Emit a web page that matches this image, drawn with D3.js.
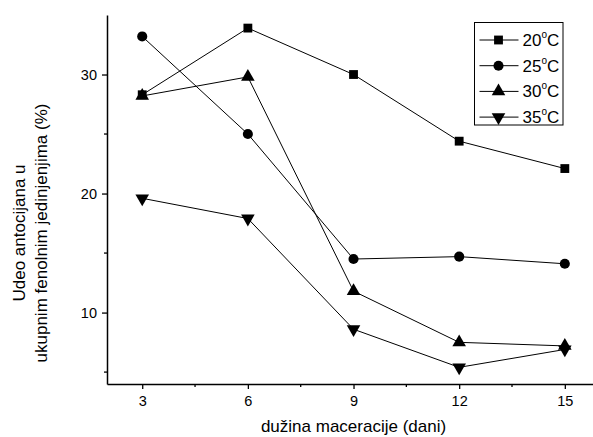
<!DOCTYPE html>
<html lang="en">
<head>
  <meta charset="utf-8">
  <title>Udeo antocijana</title>
  <script src="https://cdn.jsdelivr.net/npm/d3@7"></script>
  <style type="text/css">
    body { margin: 0; background: #fff; }
    svg { font-family: "Liberation Sans", Arial, sans-serif; }
    .tick text { font-size: 14.5px; fill: #000; }
    .axisTitle { font-size: 17px; fill: #000; }
    .legendText { font-size: 17px; fill: #000; }
  </style>
</head>
<body>
<script>
  // days of maceration
  var days = [3, 6, 9, 12, 15];
  var seriesNames = ["20", "25", "30", "35"];
  var s20 = [28.3, 33.9, 30.0, 24.4, 22.1];
  var s25 = [33.2, 25.0, 14.5, 14.7, 14.1];
  var s30 = [28.2, 29.8, 11.8, 7.5, 7.2];
  var s35 = [19.6, 17.9, 8.6, 5.4, 6.9];
  var xTicks = [3, 6, 9, 12, 15];
  var yTicks = [10, 20, 30];

  var series = [s20, s25, s30, s35];
  var symbols = [d3.symbolSquare, d3.symbolCircle, d3.symbolTriangle, d3.symbolTriangle];
  var symSize = [78, 80, 80, 80];
  var symRot = [0, 0, 0, 180];

  var width = 593, height = 437;
  var margin = {left: 107, top: 15, right: 0, bottom: 53};

  var svg = d3.select("body").append("svg")
    .attr("width", width)
    .attr("height", height);

  var x = d3.scaleLinear().domain([2, 15.8]).range([margin.left, width - margin.right]);
  var y = d3.scaleLinear().domain([4, 35]).range([height - margin.bottom, margin.top]);

  // minor ticks
  var xMinor = [4.5, 7.5, 10.5, 13.5];
  var yMinor = [5, 15, 25];

  var xAxis = svg.append("g")
    .attr("transform", "translate(0," + (height - margin.bottom) + ")")
    .call(d3.axisBottom(x).tickValues(xTicks).tickSize(5).tickPadding(7).tickSizeOuter(0));
  xAxis.select(".domain").attr("stroke-width", 1.5);
  xAxis.selectAll(".tick line").attr("stroke-width", 1.3);
  xAxis.selectAll(".minor").data(xMinor).enter().append("line")
    .attr("x1", function (d) { return x(d); })
    .attr("x2", function (d) { return x(d); })
    .attr("y1", 0).attr("y2", 3)
    .attr("stroke", "#000").attr("stroke-width", 1.3);

  var yAxis = svg.append("g")
    .attr("transform", "translate(" + margin.left + ",0)")
    .call(d3.axisLeft(y).tickValues(yTicks).tickSize(5).tickPadding(5).tickSizeOuter(0));
  yAxis.select(".domain").attr("stroke-width", 1.5);
  yAxis.selectAll(".tick line").attr("stroke-width", 1.3);
  yAxis.selectAll(".minor").data(yMinor).enter().append("line")
    .attr("y1", function (d) { return y(d); })
    .attr("y2", function (d) { return y(d); })
    .attr("x1", 0).attr("x2", -3)
    .attr("stroke", "#000").attr("stroke-width", 1.3);

  var line = d3.line()
    .x(function (d, i) { return x(days[i]); })
    .y(function (d) { return y(d); });

  series.forEach(function (s, k) {
    svg.append("path")
      .attr("d", line(s))
      .attr("fill", "none")
      .attr("stroke", "#000")
      .attr("stroke-width", 1);
  });

  series.forEach(function (s, k) {
    svg.selectAll(".m" + k).data(s).enter().append("path")
      .attr("class", "m" + k)
      .attr("d", d3.symbol().type(symbols[k]).size(symSize[k]))
      .attr("transform", function (d, i) {
        return "translate(" + x(days[i]) + "," + y(d) + ") rotate(" + symRot[k] + ")";
      })
      .attr("fill", "#000");
  });

  // axis titles
  svg.append("text")
    .attr("class", "axisTitle")
    .attr("x", x(9))
    .attr("y", 432)
    .attr("text-anchor", "middle")
    .text("dužina maceracije (dani)");

  var yt = svg.append("text")
    .attr("class", "axisTitle")
    .attr("transform", "translate(25,233) rotate(-90)")
    .attr("text-anchor", "middle");
  yt.append("tspan").attr("x", 0).attr("y", 0).text("Udeo antocijana u");
  yt.append("tspan").attr("x", 0).attr("y", 22).text("ukupnim fenolnim jedinjenjima (%)");

  // legend
  var lg = svg.append("g").attr("transform", "translate(474.5,22.5)");
  lg.append("rect")
    .attr("width", 88.5).attr("height", 102.5)
    .attr("fill", "#fff").attr("stroke", "#000").attr("stroke-width", 1);
  seriesNames.forEach(function (n, k) {
    var ly = 17.5 + k * 25.7;
    lg.append("line")
      .attr("x1", 5).attr("x2", 44)
      .attr("y1", ly).attr("y2", ly)
      .attr("stroke", "#000").attr("stroke-width", 1);
    lg.append("path")
      .attr("d", d3.symbol().type(symbols[k]).size(symSize[k]))
      .attr("transform", "translate(24," + ly + ") rotate(" + symRot[k] + ")")
      .attr("fill", "#000");
    var t = lg.append("text")
      .attr("class", "legendText")
      .attr("x", 48)
      .attr("y", ly + 6);
    t.append("tspan").text(n);
    t.append("tspan").attr("font-size", "10px").attr("dy", -8).text("o");
    t.append("tspan").attr("dy", 8).text("C");
  });
</script>
</body>
</html>
